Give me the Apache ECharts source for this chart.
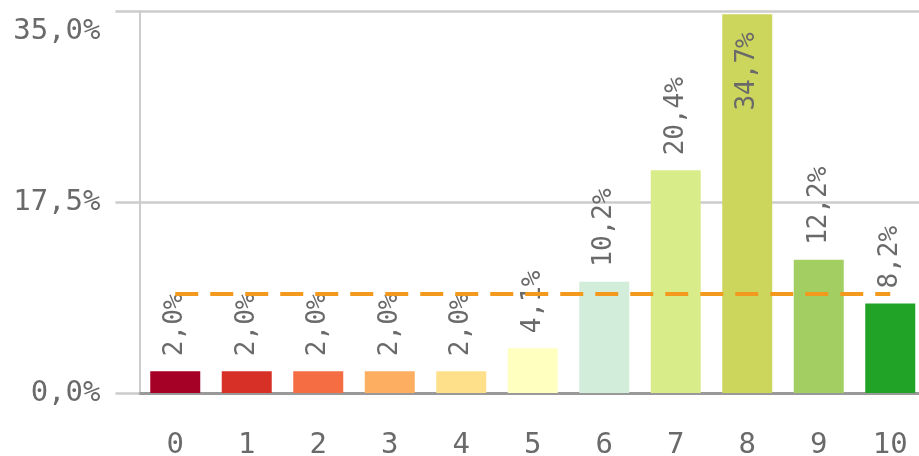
<!DOCTYPE html>
<html>
<head>
<meta charset="utf-8">
<script src="https://cdn.jsdelivr.net/npm/echarts@6/dist/echarts.min.js"></script>
<style>
html,body{margin:0;padding:0;background:#fff;}
#chart{width:919px;height:456px;}
</style>
</head>
<body>
<div id="chart"></div>
<script>
const categories = ['0','1','2','3','4','5','6','7','8','9','10'];
const values = [2.0, 2.0, 2.0, 2.0, 2.0, 4.1, 10.2, 20.4, 34.7, 12.2, 8.2];
const barColors = ['#a50026','#d73027','#f46d43','#fdae61','#fee08b','#ffffbf','#d3eddb','#d9ec8a','#cdd65c','#a3cf62','#20a326'];
const yTicks = [0, 17.5, 35];
const meanValue = values.reduce((a, b) => a + b, 0) / values.length;

const fmt = v => v.toFixed(1).replace('.', ',') + '%';
const FONT = 'DejaVu Sans Mono';
const TXT = '#6a6a6a';

const chart = echarts.init(document.getElementById('chart'), null, {renderer: 'canvas'});
chart.setOption({
  animation: false,
  grid: {left: 139.5, right: -7, top: 11, bottom: 63, containLabel: false, outerBoundsMode: 'none'},
  xAxis: {
    type: 'category',
    data: categories,
    axisLine: {lineStyle: {color: '#999999', width: 3}},
    axisTick: {show: false},
    axisLabel: {color: TXT, fontFamily: FONT, fontSize: 29, margin: 38}
  },
  yAxis: {
    type: 'value',
    min: yTicks[0], max: yTicks[2], interval: yTicks[1],
    axisLine: {show: true, lineStyle: {color: '#cccccc', width: 2}},
    axisTick: {show: true, length: 24, lineStyle: {color: '#cccccc', width: 2.5}},
    splitLine: {lineStyle: {color: '#cccccc', width: 2.5}},
    axisLabel: {
      color: TXT, fontFamily: FONT, fontSize: 29, margin: 39,
      formatter: v => v === yTicks[2] ? '{top|' + fmt(v) + '}' : fmt(v),
      rich: {top: {color: TXT, fontFamily: FONT, fontSize: 29, padding: [40, 0, 0, 0]}}
    }
  },
  series: [{
    type: 'bar',
    barWidth: 50,
    data: values.map((v, i) => {
      const item = {value: v, itemStyle: {color: barColors[i]}};
      if (i === 8) {
        item.label = {position: 'insideTop', align: 'right', distance: 18};
      }
      return item;
    }),
    label: {
      show: true,
      position: 'top',
      rotate: 90,
      align: 'left',
      verticalAlign: 'middle',
      distance: 15,
      color: TXT,
      fontFamily: FONT,
      fontSize: 26,
      formatter: p => fmt(p.value)
    },
    markLine: {
      silent: true,
      symbol: 'none',
      label: {show: false},
      lineStyle: {color: '#f39a1e', width: 4, type: [23, 12]},
      data: [[{coord: [0, meanValue]}, {coord: [10, meanValue]}]]
    }
  }]
});
</script>
</body>
</html>
